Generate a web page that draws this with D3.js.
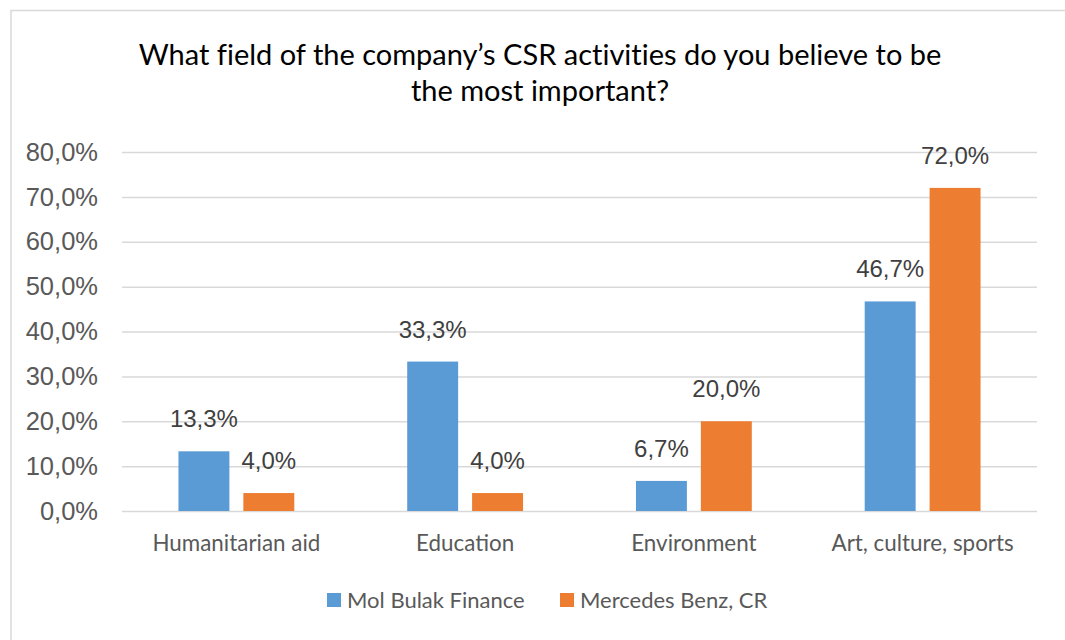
<!DOCTYPE html>
<html>
<head>
<meta charset="utf-8">
<script src="https://cdn.jsdelivr.net/npm/d3@7"></script>
<style>
  body { margin: 0; background: #fff; }
  svg { display: block; }
</style>
</head>
<body>
<div id="chart"></div>
<script>
const categories = ['Humanitarian aid', 'Education', 'Environment', 'Art, culture, sports'];
const seriesNames = ['Mol Bulak Finance', 'Mercedes Benz, CR'];
const molBulak = [13.3, 33.3, 6.7, 46.7];
const mercedes = [4.0, 4.0, 20.0, 72.0];
const yTicks = [0, 10, 20, 30, 40, 50, 60, 70, 80];
const titleLines = ['What field of the company\u2019s CSR activities do you believe to be', 'the most important?'];

const colors = ['#5b9bd5', '#ed7d31'];
const width = 1065;
const height = 640;
const margin = {top: 152, right: 28, bottom: 129, left: 122};
const uiFont = 'Lato, "Open Sans", sans-serif';
const numFont = '"Liberation Sans", Arial, sans-serif';

const fmt = (v) => v.toFixed(1).replace('.', ',') + '%';

const svg = d3.select('#chart').append('svg')
  .attr('width', width)
  .attr('height', height);

svg.append('rect')
  .attr('x', 11)
  .attr('y', 10.5)
  .attr('width', width + 20)
  .attr('height', height + 20)
  .attr('fill', '#fff')
  .attr('stroke', '#d9d9d9')
  .attr('stroke-width', 1.5);

// title
svg.append('g').selectAll('text')
  .data(titleLines)
  .enter().append('text')
  .attr('x', 540)
  .attr('y', (d, i) => 65 + i * 36)
  .attr('text-anchor', 'middle')
  .style('font-family', uiFont)
  .style('font-size', '29px')
  .style('font-variant-ligatures', 'none')
  .style('fill', '#000')
  .text((d) => d);

const innerW = width - margin.left - margin.right;
const innerH = height - margin.top - margin.bottom;

const g = svg.append('g')
  .attr('transform', 'translate(' + margin.left + ',' + margin.top + ')');

const x0 = d3.scaleBand()
  .domain(categories)
  .range([0, innerW]);

const x1 = d3.scaleBand()
  .domain(seriesNames)
  .range([0, x0.bandwidth()])
  .paddingInner(0.215)
  .paddingOuter(0.87);

const y = d3.scaleLinear()
  .domain([0, 80])
  .range([innerH, 0]);

// gridlines + y labels
const yAxis = d3.axisLeft(y)
  .tickValues(yTicks)
  .tickSize(-innerW)
  .tickPadding(24)
  .tickFormat(fmt);

const yg = g.append('g').call(yAxis);
yg.select('.domain').remove();
yg.selectAll('line').attr('stroke', '#d9d9d9').attr('stroke-width', 1.5);
yg.selectAll('text')
  .style('font-family', numFont)
  .style('font-size', '25.5px')
  .style('fill', '#595959');

const rows = [molBulak, mercedes];
const barData = [];
categories.forEach((c, i) => {
  seriesNames.forEach((s, j) => {
    barData.push({cat: c, series: s, value: rows[j][i], idx: j});
  });
});

const bars = g.append('g').selectAll('.bar')
  .data(barData)
  .enter().append('g')
  .attr('class', 'bar')
  .attr('transform', (d) => 'translate(' + (x0(d.cat) + x1(d.series)) + ',0)');

bars.append('rect')
  .attr('x', 0)
  .attr('y', (d) => y(d.value))
  .attr('width', x1.bandwidth())
  .attr('height', (d) => innerH - y(d.value))
  .attr('fill', (d) => colors[d.idx]);

bars.append('text')
  .attr('x', x1.bandwidth() / 2)
  .attr('y', (d) => y(d.value) - 24)
  .attr('text-anchor', 'middle')
  .style('font-family', numFont)
  .style('font-size', '24px')
  .style('fill', '#404040')
  .text((d) => fmt(d.value));

// category axis
const xAxis = d3.axisBottom(x0).tickSize(0).tickPadding(24);
const xg = g.append('g')
  .attr('transform', 'translate(0,' + innerH + ')')
  .call(xAxis);
xg.select('.domain').remove();
xg.selectAll('text')
  .style('font-family', uiFont)
  .style('font-size', '22.4px')
  .style('fill', '#595959');

// legend
const legendX = [327, 560];
const legend = svg.append('g').selectAll('.legend')
  .data(seriesNames)
  .enter().append('g')
  .attr('class', 'legend')
  .attr('transform', (d, i) => 'translate(' + legendX[i] + ',593)');

legend.append('rect')
  .attr('width', 14)
  .attr('height', 14)
  .attr('fill', (d, i) => colors[i]);

legend.append('text')
  .attr('x', 20)
  .attr('y', 14.5)
  .style('font-family', uiFont)
  .style('font-size', '22px')
  .style('fill', '#595959')
  .text((d) => d);
</script>
</body>
</html>
